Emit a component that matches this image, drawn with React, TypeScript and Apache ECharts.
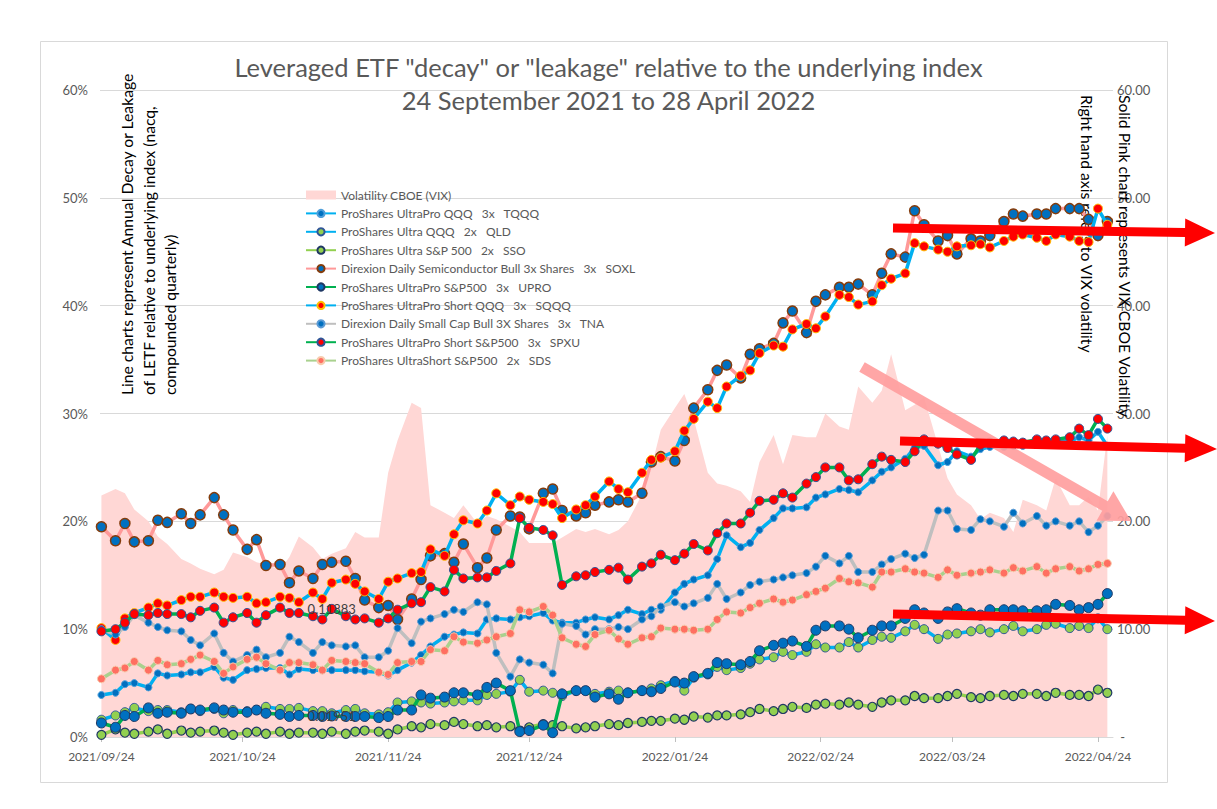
import React, { useEffect, useRef } from "react";
import * as echarts from "echarts";

// ---------- DATA ----------
const startDate = "2021/09/24";
// calendar-day offsets from startDate of the sampled observations
const dayOffsets = [
  0, 3, 5, 7, 10, 12, 14, 17, 19, 21, 24, 26, 28, 31, 33, 35, 38, 40, 42, 45,
  47, 49, 52, 54, 56, 59, 61, 63, 66, 68, 70, 73, 75, 77, 80, 82, 84, 87, 89, 91,
  94, 96, 98, 101, 103, 105, 108, 110, 112, 115, 117, 119, 122, 124, 126, 129, 131, 133, 136, 138,
  140, 143, 145, 147, 150, 152, 154, 157, 159, 161, 164, 166, 168, 171, 173, 175, 178, 180, 182, 185,
  187, 189, 192, 194, 196, 199, 201, 203, 206, 208, 210, 212, 214,
];
const xTickLabels = [
  "2021/09/24", "2021/10/24", "2021/11/24", "2021/12/24",
  "2022/01/24", "2022/02/24", "2022/03/24", "2022/04/24",
];
const leftTickLabels = ["0%", "10%", "20%", "30%", "40%", "50%", "60%"];

// VIX close (right axis)
const vix = [
  22.4, 23.0, 22.6, 21.1, 20.0, 18.6, 17.9, 16.5, 16.1, 15.6,
  15.1, 15.5, 17.1, 16.7, 16.2, 16.0, 15.5, 16.7, 18.6, 17.6,
  16.5, 17.0, 17.5, 19.0, 18.5, 18.5, 24.5, 27.5, 31.0, 30.5,
  21.5, 20.8, 20.3, 21.5, 19.8, 20.5, 20.2, 19.5, 19.0, 18.0,
  18.0, 18.0, 18.5, 19.3, 19.0, 19.3, 18.8, 19.2, 20.0, 22.5,
  25.0, 28.5, 30.5, 31.8, 29.5, 24.5, 23.5, 23.3, 22.8, 21.8,
  25.5, 28.0, 25.3, 28.0, 27.8, 27.8, 30.0, 28.8, 28.5, 32.5,
  31.0, 32.1, 35.5, 30.3, 30.8, 31.5, 27.0, 24.0, 22.5, 21.5,
  20.2, 20.8, 20.3, 19.0, 22.0, 21.5, 21.0, 24.0, 21.5, 21.5,
  22.3, 21.0, 28.0,
];
// Annual decay (%), left axis
const tqqq = [
  3.9, 4.1, 4.9, 5.0, 4.6, 5.9, 5.7, 5.8, 6.0, 6.0,
  6.5, 5.5, 5.3, 6.2, 6.3, 6.4, 6.4, 5.8, 6.3, 6.2,
  6.2, 6.2, 6.2, 6.2, 6.1, 6.0, 5.7, 6.2, 6.9, 7.6,
  8.4, 9.3, 9.5, 9.7, 9.6, 10.9, 11.0, 10.9, 11.1, 11.2,
  11.5, 10.8, 10.6, 10.6, 10.9, 11.1, 10.9, 11.3, 11.8, 11.4,
  11.8, 11.8, 13.4, 14.2, 14.6, 15.0, 16.5, 18.7, 17.6, 18.0,
  19.2, 20.3, 21.2, 21.2, 21.3, 22.2, 22.5, 23.0, 22.9, 22.7,
  23.8, 24.6, 25.0, 25.8, 26.8, 27.0, 25.2, 25.5, 26.5, 26.0,
  26.7, 26.9, 26.9, 27.0, 27.0, 27.3, 27.1, 27.5, 27.4, 27.8,
  27.5, 28.3, 27.0,
];
const qld = [
  1.6, 2.0, 2.3, 2.7, 2.4, 2.5, 2.5, 2.3, 2.6, 2.4,
  2.6, 2.2, 2.5, 2.4, 2.5, 2.8, 2.6, 2.6, 2.7, 2.4,
  2.4, 2.2, 2.5, 2.6, 2.2, 2.1, 2.3, 3.2, 3.3, 3.2,
  3.1, 3.2, 3.3, 3.4, 3.4, 3.9, 4.0, 4.2, 5.3, 4.2,
  4.3, 4.1, 3.8, 4.3, 4.3, 4.0, 4.2, 4.3, 4.1, 4.3,
  4.5, 4.8, 5.2, 4.3, 5.5, 5.8, 6.5, 6.2, 6.4, 6.8,
  7.2, 7.4, 7.9, 7.6, 7.9, 8.6, 8.3, 8.3, 8.8, 8.3,
  9.0, 9.3, 9.2, 9.8, 10.4, 10.0, 9.1, 9.5, 9.6, 9.8,
  10.0, 9.7, 10.0, 10.3, 9.8, 10.0, 10.4, 10.5, 10.1, 10.3,
  10.1, 11.0, 10.0,
];
const sso = [
  0.2, 0.7, 0.4, 0.3, 0.5, 0.7, 0.3, 0.6, 0.4, 0.5,
  0.6, 0.4, 0.2, 0.4, 0.5, 0.3, 0.5, 0.3, 0.4, 0.4,
  0.3, 0.5, 0.3, 0.5, 0.6, 0.5, 0.3, 0.7, 1.0, 0.9,
  1.2, 1.1, 1.4, 1.2, 1.0, 1.1, 0.9, 1.0, 0.6, 0.9,
  1.2, 1.1, 1.0, 0.8, 0.9, 1.0, 1.2, 1.1, 1.3, 1.4,
  1.5, 1.5, 1.7, 1.6, 1.9, 1.8, 2.0, 2.0, 2.1, 2.3,
  2.6, 2.4, 2.6, 2.8, 2.7, 3.0, 3.1, 3.0, 3.2, 3.0,
  2.8, 3.2, 3.4, 3.4, 3.8, 3.6, 3.6, 3.8, 4.0, 3.7,
  3.6, 3.8, 3.9, 3.8, 4.0, 4.0, 3.8, 4.1, 3.9, 3.9,
  3.8, 4.4, 4.1,
];
const soxl = [
  19.5, 18.2, 19.8, 18.1, 18.2, 20.1, 19.9, 20.7, 19.8, 20.6,
  22.2, 20.6, 19.2, 17.4, 18.3, 15.9, 16.0, 14.3, 15.4, 14.7,
  16.0, 16.2, 16.3, 14.7, 12.7, 12.0, 12.2, 10.9, 12.8, 14.6,
  16.8, 17.0, 16.2, 17.9, 15.7, 16.6, 19.2, 20.5, 20.4, 19.3,
  22.6, 23.0, 21.0, 20.5, 20.8, 21.5, 21.8, 22.0, 21.8, 22.6,
  25.5, 26.0, 25.6, 27.5, 30.5, 32.2, 34.0, 34.5, 33.3, 35.5,
  36.0, 36.5, 38.4, 39.5, 37.5, 40.4, 41.0, 41.7, 41.7, 42.0,
  41.0, 43.0, 44.8, 44.5, 48.8, 47.5, 46.0, 46.5, 44.8, 46.2,
  46.0, 46.5, 47.8, 48.5, 48.3, 48.5, 48.5, 49.0, 49.0, 49.0,
  48.0, 46.5, 47.8,
];
const upro = [
  1.3, 0.9, 2.0, 1.9, 2.7, 2.2, 2.3, 2.2, 2.6, 2.5,
  2.7, 2.5, 2.3, 2.3, 2.5, 2.2, 2.1, 1.9, 2.0, 2.0,
  1.9, 1.951, 1.9, 1.9, 1.9, 1.8, 1.9, 2.5, 2.5, 3.9,
  3.6, 3.7, 4.1, 4.1, 3.9, 4.6, 5.0, 4.3, 0.5, 0.6,
  1.1, 0.4, 4.0, 4.3, 4.3, 3.7, 4.0, 3.5, 4.1, 4.3,
  4.2, 4.5, 5.1, 5.0, 5.6, 5.9, 6.9, 6.8, 6.7, 7.0,
  8.0, 8.5, 8.7, 8.9, 8.4, 9.9, 10.3, 10.3, 10.0, 9.2,
  9.9, 10.3, 10.3, 11.0, 11.8, 11.5, 11.0, 11.6, 11.9, 11.5,
  11.3, 11.8, 11.8, 11.8, 11.7, 11.7, 11.8, 12.3, 12.2, 11.8,
  12.0, 12.3, 13.3,
];
const sqqq = [
  10.1, 9.0, 11.0, 11.5, 12.0, 12.4, 12.2, 12.7, 13.0, 13.0,
  13.4, 13.0, 12.9, 13.0, 12.4, 12.5, 13.0, 12.9, 12.5, 13.4,
  12.8, 14.3, 14.6, 14.2, 13.5, 12.8, 14.4, 14.7, 15.2, 15.3,
  17.4, 16.8, 18.8, 20.1, 19.8, 21.0, 22.6, 21.5, 22.3, 22.0,
  21.8, 21.6, 20.3, 21.1, 21.5, 22.3, 23.7, 23.0, 22.7, 24.5,
  25.7, 25.9, 26.5, 28.4, 29.5, 31.1, 30.5, 32.5, 33.5, 34.0,
  35.6, 36.3, 36.2, 37.8, 38.3, 37.9, 39.0, 41.0, 40.8, 40.1,
  40.4, 41.9, 42.5, 43.0, 45.8, 45.5, 45.2, 45.0, 45.5, 45.6,
  45.7, 45.4, 46.0, 46.4, 46.6, 46.3, 46.0, 46.6, 46.4, 46.0,
  45.9, 49.0, 47.5,
];
const tna = [
  10.0, 9.5, 10.2, 11.3, 10.6, 10.2, 9.9, 9.8, 9.0, 8.5,
  9.6, 7.8, 7.0, 7.6, 8.1, 7.4, 7.8, 9.3, 8.8, 7.8,
  8.8, 8.5, 8.4, 8.5, 7.4, 7.4, 8.0, 10.1, 8.7, 10.7,
  11.0, 11.4, 11.8, 11.6, 12.5, 12.3, 7.8, 5.6, 7.2, 6.9,
  6.7, 5.9, 10.5, 10.3, 9.5, 10.0, 10.0, 10.2, 10.0, 10.9,
  11.2, 12.1, 12.5, 12.1, 12.4, 12.9, 14.2, 12.8, 13.4, 14.1,
  14.4, 14.6, 14.8, 15.0, 15.2, 15.8, 16.8, 16.1, 16.8, 15.3,
  15.3, 16.0, 16.5, 17.0, 16.6, 16.9, 21.0, 21.0, 19.3, 19.2,
  20.2, 20.0, 19.5, 20.8, 19.8, 20.5, 19.6, 20.0, 19.6, 20.0,
  19.0, 19.6, 20.5,
];
const spxu = [
  9.8, 10.0, 10.6, 11.4, 11.3, 11.5, 11.4, 11.4, 11.1, 11.7,
  12.0, 10.6, 11.1, 11.5, 10.6, 11.3, 12.0, 11.5, 11.5, 11.2,
  10.9, 11.883, 11.2, 10.9, 11.0, 10.6, 11.0, 11.8, 12.4, 12.5,
  13.9, 13.5, 15.5, 14.7, 14.8, 14.8, 15.4, 16.1, 20.3, 19.4,
  19.2, 18.7, 14.1, 14.9, 15.0, 15.3, 15.5, 15.7, 14.6, 15.8,
  16.1, 16.9, 16.4, 17.0, 17.9, 17.3, 18.9, 19.8, 19.8, 20.8,
  21.9, 22.0, 22.6, 22.2, 23.5, 24.1, 25.0, 25.0, 23.8, 23.9,
  25.3, 26.0, 25.7, 25.5, 26.5, 27.6, 27.2, 26.8, 26.2, 25.7,
  27.1, 27.3, 27.5, 27.4, 27.3, 27.6, 27.5, 27.6, 27.8, 28.6,
  28.0, 29.5, 28.6,
];
const sds = [
  5.4, 6.2, 6.4, 7.0, 6.2, 7.1, 6.7, 6.8, 7.2, 7.6,
  7.0, 5.9, 6.5, 7.2, 7.4, 6.8, 6.2, 6.9, 6.9, 6.7,
  6.2, 7.1, 7.0, 6.9, 6.8, 6.0, 5.8, 6.9, 7.0, 7.0,
  8.1, 8.0, 9.3, 8.8, 8.7, 9.0, 9.3, 9.6, 11.8, 11.6,
  12.1, 11.3, 9.2, 8.6, 8.4, 9.5, 9.9, 9.1, 8.6, 9.2,
  9.3, 10.1, 10.0, 10.0, 9.9, 10.0, 10.9, 11.6, 11.5, 12.0,
  12.4, 12.8, 12.5, 12.7, 13.2, 13.5, 13.8, 14.7, 14.4, 14.3,
  13.9, 15.3, 15.3, 15.6, 15.3, 15.2, 14.8, 15.5, 15.0, 15.2,
  15.3, 15.5, 15.2, 15.7, 15.4, 15.8, 15.2, 15.6, 15.8, 15.4,
  15.6, 16.0, 16.1,
];
// index of the observation that carries a value label
const labelledPointIndex = 21;

const vixName = "Volatility CBOE (VIX)";
const seriesNames = [
  "ProShares UltraPro QQQ   3x   TQQQ",
  "ProShares Ultra QQQ   2x   QLD",
  "ProShares Ultra S&P 500   2x   SSO",
  "Direxion Daily Semiconductor Bull 3x Shares   3x   SOXL",
  "ProShares UltraPro S&P500   3x   UPRO",
  "ProShares UltraPro Short QQQ   3x   SQQQ",
  "Direxion Daily Small Cap Bull 3X Shares   3x   TNA",
  "ProShares UltraPro Short S&P500   3x   SPXU",
  "ProShares UltraShort S&P500   2x   SDS",
];
const seriesValues = [tqqq, qld, sso, soxl, upro, sqqq, tna, spxu, sds];

// ---------- STYLES ----------
const FONT = "Lato, 'Noto Sans', sans-serif";
const styles = [
  { line: "#00B0F0", fill: "#0070C0", border: "#4F9FDA", size: 7, bw: 1 },
  { line: "#00B0F0", fill: "#92D050", border: "#2F5597", size: 9, bw: 1 },
  { line: "#92D050", fill: "#92D050", border: "#203864", size: 9, bw: 1.2 },
  { line: "#FF9999", fill: "#0070C0", border: "#843C0C", size: 10, bw: 1.5 },
  { line: "#00B050", fill: "#0070C0", border: "#1F3864", size: 10, bw: 1 },
  { line: "#00B0F0", fill: "#FF0000", border: "#FFC000", size: 9, bw: 1 },
  { line: "#BFBFBF", fill: "#0070C0", border: "#5B9BD5", size: 7, bw: 1 },
  { line: "#00B050", fill: "#FF0000", border: "#2F5597", size: 9, bw: 1 },
  { line: "#A9D18E", fill: "#FF6F61", border: "#F8CBAD", size: 8, bw: 1 },
];
const labelledSeries = [4, 7]; // UPRO, SPXU

function arrowPoints(x1: number, y1: number, x2: number, y2: number, shaft: number, headW: number, headL: number) {
  const dx = x2 - x1, dy = y2 - y1;
  const len = Math.hypot(dx, dy);
  const ux = dx / len, uy = dy / len;
  const px = -uy, py = ux;
  const bx = x2 - ux * headL, by = y2 - uy * headL;
  const s = shaft / 2, h = headW / 2;
  return [
    [x1 + px * s, y1 + py * s],
    [bx + px * s, by + py * s],
    [bx + px * h, by + py * h],
    [x2, y2],
    [bx - px * h, by - py * h],
    [bx - px * s, by - py * s],
    [x1 - px * s, y1 - py * s],
  ];
}

export default function App() {
  const ref = useRef<HTMLDivElement>(null);
  useEffect(() => {
    document.body.style.margin = "0";
    if (!ref.current) return;
    const chart = echarts.init(ref.current, undefined, { renderer: "svg" });

    const [sy, sm, sd] = startDate.split("/").map(Number);
    const start = Date.UTC(sy, sm - 1, sd);
    const tickOffsets = xTickLabels.map((s) => {
      const [y, m, d] = s.split("/").map(Number);
      return Math.round((Date.UTC(y, m - 1, d) - start) / 864e5);
    });

    const lineSeries = seriesNames.map((name, si) => {
      const st = styles[si];
      const vals = seriesValues[si];
      const data = dayOffsets.map((d, i) => {
        if (labelledSeries.includes(si) && i === labelledPointIndex) {
          return {
            value: [d, vals[i]],
            label: {
              show: true,
              position: "inside",
              formatter: (p: any) => (p.value[1] / 100).toFixed(5),
              color: "#404040",
              fontSize: 13,
              fontFamily: FONT,
            },
          };
        }
        return [d, vals[i]];
      });
      return {
        name,
        type: "line",
        yAxisIndex: 0,
        data,
        symbol: "circle",
        symbolSize: st.size,
        showAllSymbol: true,
        lineStyle: { color: st.line, width: 3.5 },
        itemStyle: { color: st.fill, borderColor: st.border, borderWidth: st.bw },
        emphasis: { disabled: true },
        z: 3 + si,
      };
    });

    const arrows = [
      { pts: arrowPoints(893, 228, 1215, 233, 9, 28, 30), fill: "#FF0000" },
      { pts: arrowPoints(900, 441, 1217, 449, 9, 28, 32), fill: "#FF0000" },
      { pts: arrowPoints(893, 614, 1215, 621, 9, 28, 30), fill: "#FF0000" },
    ];

    const axisTitleFont = `15.7px ${FONT}`;

    chart.setOption({
      animation: false,
      textStyle: { fontFamily: FONT },
      title: {
        text: 'Leveraged ETF "decay" or "leakage" relative to the underlying index\n24 September 2021 to 28 April 2022',
        left: "center",
        top: 45,
        textStyle: { fontSize: 25.5, fontWeight: "normal", color: "#595959", lineHeight: 33, fontFamily: FONT },
      },
      legend: {
        orient: "vertical",
        left: 300,
        top: 184,
        itemWidth: 30,
        itemHeight: 9,
        itemGap: 6.4,
        selectedMode: false,
        textStyle: { color: "#595959", fontSize: 12, fontFamily: FONT },
        data: [
          { name: vixName, icon: "rect", itemStyle: { color: "#FFD7D5" } },
          ...seriesNames,
        ],
      },
      grid: { left: 100, right: 104, top: 90, bottom: 72 },
      xAxis: {
        type: "value",
        min: -0.3,
        max: 215.2,
        splitLine: { show: false },
        axisLine: { show: true, lineStyle: { color: "#D9D9D9" } },
        axisTick: { show: true, customValues: tickOffsets, length: 5, lineStyle: { color: "#BFBFBF" } },
        axisLabel: {
          customValues: tickOffsets,
          formatter: (v: number) => {
            const i = tickOffsets.indexOf(Math.round(v));
            return i >= 0 ? xTickLabels[i] : "";
          },
          color: "#595959",
          fontSize: 12,
          margin: 13,
        },
      },
      yAxis: [
        {
          type: "value",
          min: 0,
          max: 60,
          interval: 10,
          position: "left",
          axisLine: { show: false },
          axisTick: { show: false },
          splitLine: { lineStyle: { color: "#D9D9D9" } },
          axisLabel: {
            formatter: (v: number) => leftTickLabels[Math.round(v / 10)],
            color: "#595959",
            fontSize: 13,
            margin: 12,
          },
        },
        {
          type: "value",
          min: 0,
          max: 60,
          interval: 10,
          position: "right",
          axisLine: { show: false },
          axisTick: { show: false },
          splitLine: { show: false },
          axisLabel: {
            formatter: (v: number) => (v === 0 ? " -" : v.toFixed(2)),
            color: "#595959",
            fontSize: 13,
            margin: 4,
          },
        },
      ],
      series: [
        {
          name: vixName,
          type: "line",
          yAxisIndex: 1,
          data: dayOffsets.map((d, i) => [d, vix[i]]),
          symbol: "none",
          lineStyle: { width: 0 },
          itemStyle: { color: "#FFD7D5" },
          areaStyle: { color: "#FFD7D5", opacity: 1 },
          emphasis: { disabled: true },
          z: 1,
        },
        ...lineSeries,
      ],
      graphic: [
        {
          type: "rect",
          shape: { x: 40.5, y: 41.5, width: 1127, height: 741 },
          style: { fill: "none", stroke: "#D9D9D9", lineWidth: 1 },
          z: 0,
          silent: true,
        },
        ...[
          "Line charts represent Annual Decay or Leakage",
          "of LETF relative to underlying index (nacq,",
          "compounded quarterly)",
        ].map((t, i) => ({
          type: "text",
          x: 127 + i * 21.5,
          y: 395,
          rotation: Math.PI / 2,
          z: 1,
          style: { text: t, font: axisTitleFont, fill: "#000000", textAlign: "left", textVerticalAlign: "middle" },
        })),
        {
          type: "text",
          x: 1125,
          y: 95,
          rotation: -Math.PI / 2,
          z: 1,
          style: { text: "Solid Pink chart represents VIX CBOE Volatility", font: axisTitleFont, fill: "#000000", textAlign: "left", textVerticalAlign: "middle" },
        },
        {
          type: "text",
          x: 1087,
          y: 95,
          rotation: -Math.PI / 2,
          z: 1,
          style: { text: "Right hand axis refers to VIX volatility", font: axisTitleFont, fill: "#000000", textAlign: "left", textVerticalAlign: "middle" },
        },
        {
          type: "polygon",
          shape: { points: arrowPoints(862, 367, 1131, 521, 11, 34, 30) },
          style: { fill: "#FF9E9E", opacity: 0.92 },
          z: 100,
          silent: true,
        },
        ...arrows.map((a) => ({
          type: "polygon",
          shape: { points: a.pts },
          style: { fill: a.fill },
          z: 101,
          silent: true,
        })),
      ],
    });
    return () => chart.dispose();
  }, []);
  return <div ref={ref} style={{ width: 1217, height: 809 }} />;
}
